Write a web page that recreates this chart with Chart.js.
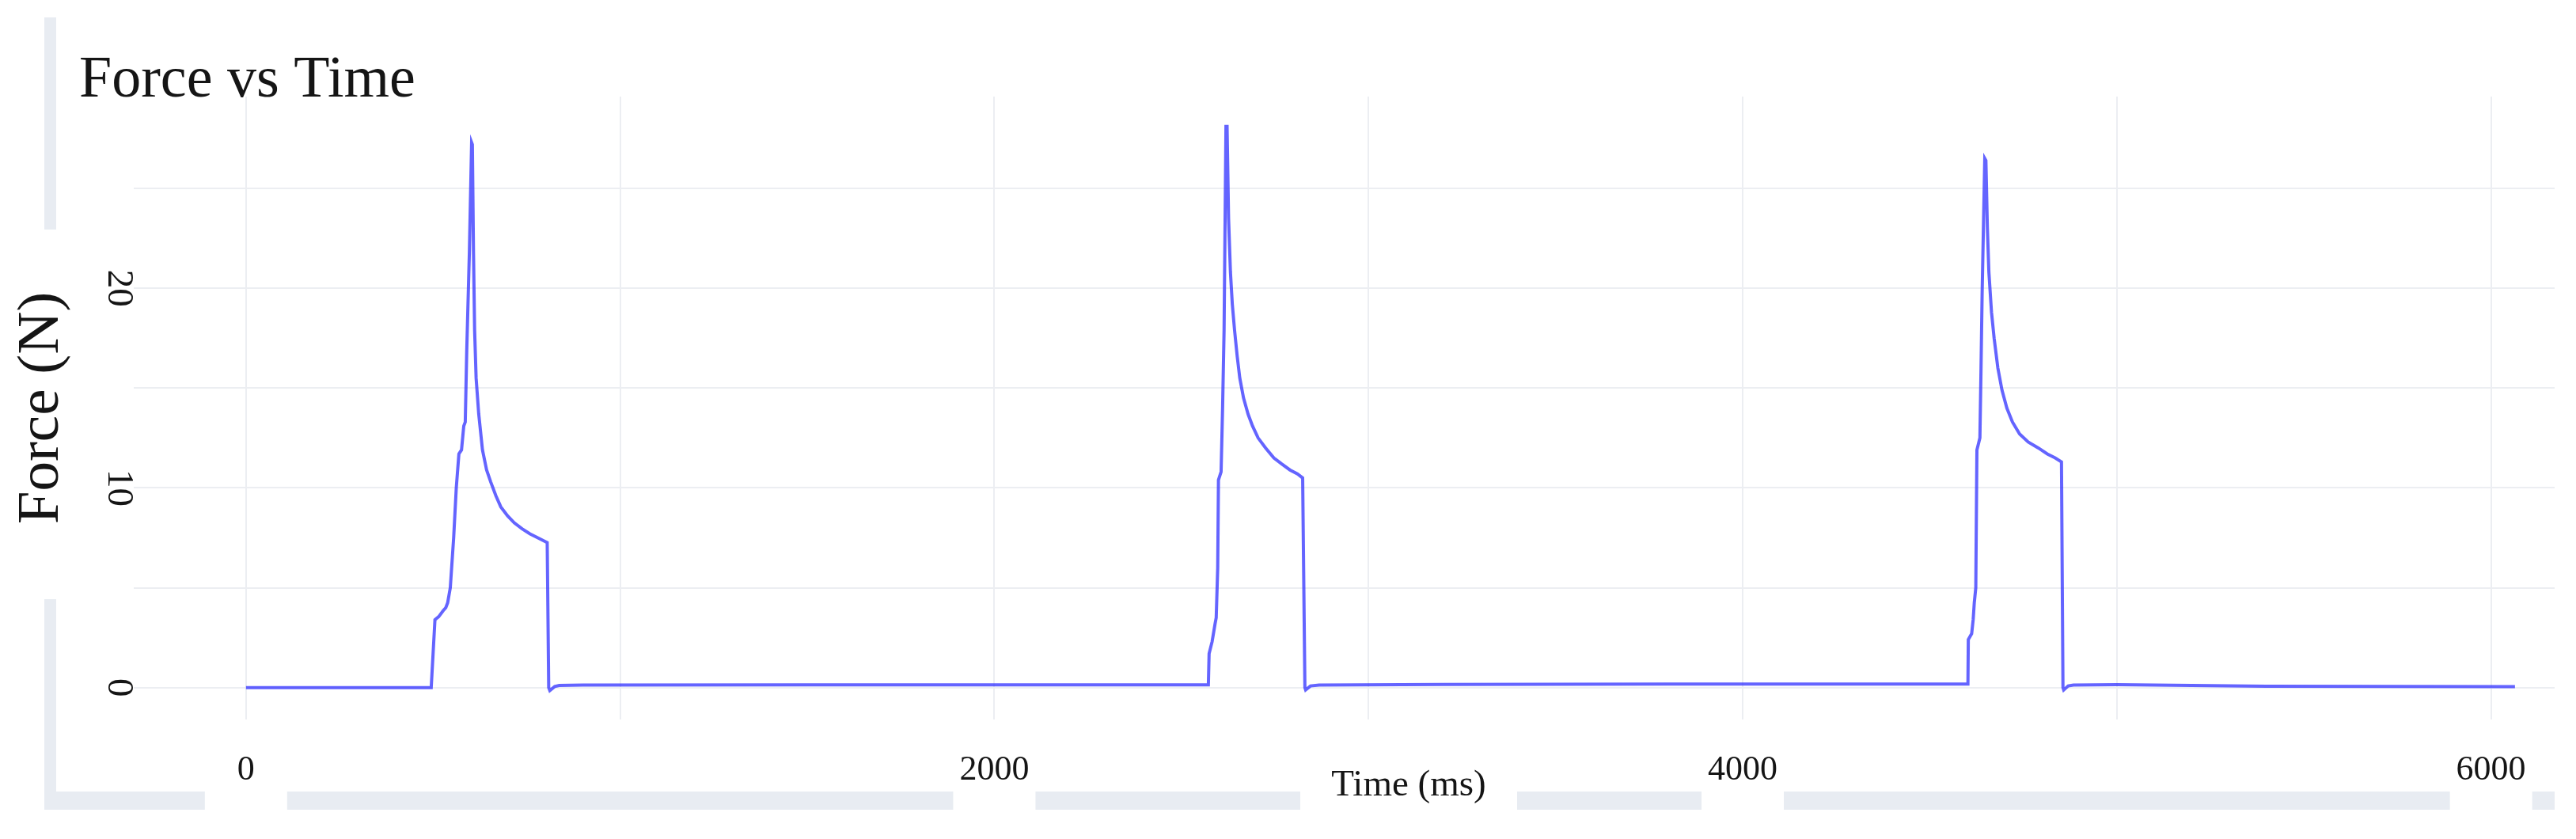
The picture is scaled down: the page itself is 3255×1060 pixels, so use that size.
<!DOCTYPE html>
<html>
<head>
<meta charset="utf-8">
<title>Force vs Time</title>
<script src="https://cdn.jsdelivr.net/npm/chart.js@4.4.1/dist/chart.umd.min.js"></script>
<style>
  html, body { margin: 0; padding: 0; background: #fff; }
  #wrap { width: 3255px; height: 1060px; }
</style>
</head>
<body>
<div id="wrap"><canvas id="forceChart" width="3255" height="1060"></canvas></div>
<script>
// force trace: three presses, time in ms, force in N
const timeMs = [
  0, 495, 505, 515, 527, 534, 539, 546, 555, 562, 569, 576, 582, 586, 590, 597,
  603, 605, 608, 611, 615, 622, 632, 643, 654, 668, 681, 699, 717, 738, 759, 780,
  805, 809, 812, 825, 837, 900, 1500, 2000,
  2572, 2574, 2582, 2590, 2593, 2597, 2599, 2606, 2610, 2614, 2619, 2622, 2626, 2631,
  2636, 2642, 2649, 2656, 2666, 2678, 2690, 2705, 2725, 2747, 2768, 2790, 2810, 2824,
  2830, 2832, 2845, 2868, 3200, 3800, 4300,
  4602, 4603, 4612, 4616, 4619, 4623, 4626, 4634, 4637, 4640, 4647, 4650, 4654, 4658,
  4665, 4672, 4682, 4693, 4706, 4721, 4740, 4763, 4790, 4814, 4835, 4852,
  4856, 4858, 4870, 4884, 5000, 5200, 5400, 6064
];
const forceN = [
  0.00, 0.00, 3.40, 3.55, 3.85, 4.00, 4.25, 5.00, 7.50, 10.0, 11.7, 11.9, 13.1, 13.3, 16.9, 21.8,
  27.3, 27.2, 21.8, 17.9, 15.5, 13.7, 11.9, 10.9, 10.3, 9.6, 9.05, 8.6, 8.25, 7.95, 7.7, 7.5,
  7.26, 0.0, -0.15, 0.05, 0.10, 0.12, 0.13, 0.13,
  0.13, 1.7, 2.3, 3.2, 3.5, 6.0, 10.4, 10.8, 14.0, 17.9, 28.1, 28.1, 23.5, 20.8,
  19.2, 17.9, 16.6, 15.5, 14.5, 13.7, 13.1, 12.5, 12.0, 11.5, 11.2, 10.9, 10.7, 10.5,
  0.0, -0.12, 0.08, 0.12, 0.15, 0.17, 0.17,
  0.17, 2.4, 2.7, 3.4, 4.25, 5.0, 11.9, 12.5, 16.0, 19.8, 26.5, 26.4, 23.0, 20.8,
  18.8, 17.5, 16.0, 14.9, 14.0, 13.3, 12.7, 12.3, 12.0, 11.7, 11.5, 11.3,
  0.0, -0.12, 0.08, 0.12, 0.14, 0.10, 0.07, 0.05
];

const xGridValues = [0, 1000, 2000, 3000, 4000, 5000, 6000];
const xTickLabels = [0, 2000, 4000, 6000];
const yGridValues = [0, 5, 10, 15, 20, 25];
const yTickLabels = [0, 10, 20];
const xRange = [-300, 6170];
const yRange = [-1.6, 29.6];

const SERIF = "'Liberation Serif', 'Times New Roman', serif";
const INK = '#151515';
const STRIP = '#e8ecf2';
const GRID = '#eceef2';
const X_TITLE_X = 1780;

// light grey frame strips, title and x axis title
const framePlugin = {
  id: 'frame',
  beforeDraw(chart) {
    const { ctx } = chart;
    ctx.save();
    ctx.fillStyle = '#ffffff';
    ctx.fillRect(0, 0, chart.width, chart.height);
    ctx.fillStyle = STRIP;
    ctx.fillRect(56, 22, 15, 268);
    ctx.fillRect(56, 757, 15, 266);

    const xs = chart.scales.x;
    const gaps = xTickLabels.map(v => {
      const p = xs.getPixelForValue(v);
      return [p - 52, p + 52];
    });
    gaps.push([X_TITLE_X - 137, X_TITLE_X + 137]);
    gaps.sort((a, b) => a[0] - b[0]);
    let start = 56;
    gaps.forEach(([a, b]) => {
      if (a > start) ctx.fillRect(start, 1000, a - start, 23);
      start = Math.max(start, b);
    });
    if (start < 3228) ctx.fillRect(start, 1000, 3228 - start, 23);
    ctx.restore();
  },
  afterDraw(chart) {
    const { ctx } = chart;
    ctx.save();
    ctx.fillStyle = INK;
    ctx.font = `74px ${SERIF}`;
    ctx.textAlign = 'left';
    ctx.textBaseline = 'alphabetic';
    ctx.fillText('Force vs Time', 100, 122);
    ctx.font = `47px ${SERIF}`;
    ctx.textAlign = 'center';
    ctx.fillText('Time (ms)', X_TITLE_X, 1005);
    ctx.restore();
  }
};

const points = timeMs.map((t, i) => ({ x: t, y: forceN[i] }));

new Chart(document.getElementById('forceChart'), {
  type: 'scatter',
  data: {
    datasets: [{
      label: 'Force',
      data: points,
      showLine: true,
      borderColor: 'rgba(40, 40, 255, 0.72)',
      backgroundColor: 'rgba(40, 40, 255, 0.72)',
      borderWidth: 4,
      pointRadius: 0,
      tension: 0
    }]
  },
  options: {
    responsive: false,
    animation: false,
    devicePixelRatio: 1,
    layout: { padding: { top: 122, right: 27, bottom: 0, left: 0 } },
    plugins: {
      legend: { display: false },
      title: { display: false },
      tooltip: { enabled: false }
    },
    scales: {
      x: {
        type: 'linear',
        min: xRange[0],
        max: xRange[1],
        border: { display: false },
        grid: { color: GRID, lineWidth: 2, drawTicks: false },
        afterBuildTicks: s => { s.ticks = xGridValues.map(v => ({ value: v })); },
        ticks: {
          autoSkip: false,
          minRotation: 0,
          maxRotation: 0,
          padding: 38,
          color: INK,
          font: { family: SERIF, size: 44 },
          callback: v => xTickLabels.includes(v) ? String(v) : ''
        },
        afterFit: s => { s.height = 151; }
      },
      y: {
        type: 'linear',
        min: yRange[0],
        max: yRange[1],
        border: { display: false },
        grid: { color: GRID, lineWidth: 2, drawTicks: false },
        title: {
          display: true,
          text: 'Force (N)',
          color: INK,
          font: { family: SERIF, size: 75 },
          padding: { top: 8, bottom: 0 }
        },
        afterBuildTicks: s => { s.ticks = yGridValues.map(v => ({ value: v })); },
        ticks: {
          autoSkip: false,
          minRotation: -90,
          maxRotation: -90,
          crossAlign: 'center',
          padding: -4,
          color: INK,
          font: { family: SERIF, size: 47 },
          callback: v => yTickLabels.includes(v) ? String(v) : ''
        },
        afterFit: s => { s.width = 169; }
      }
    }
  },
  plugins: [framePlugin]
});
</script>
</body>
</html>
